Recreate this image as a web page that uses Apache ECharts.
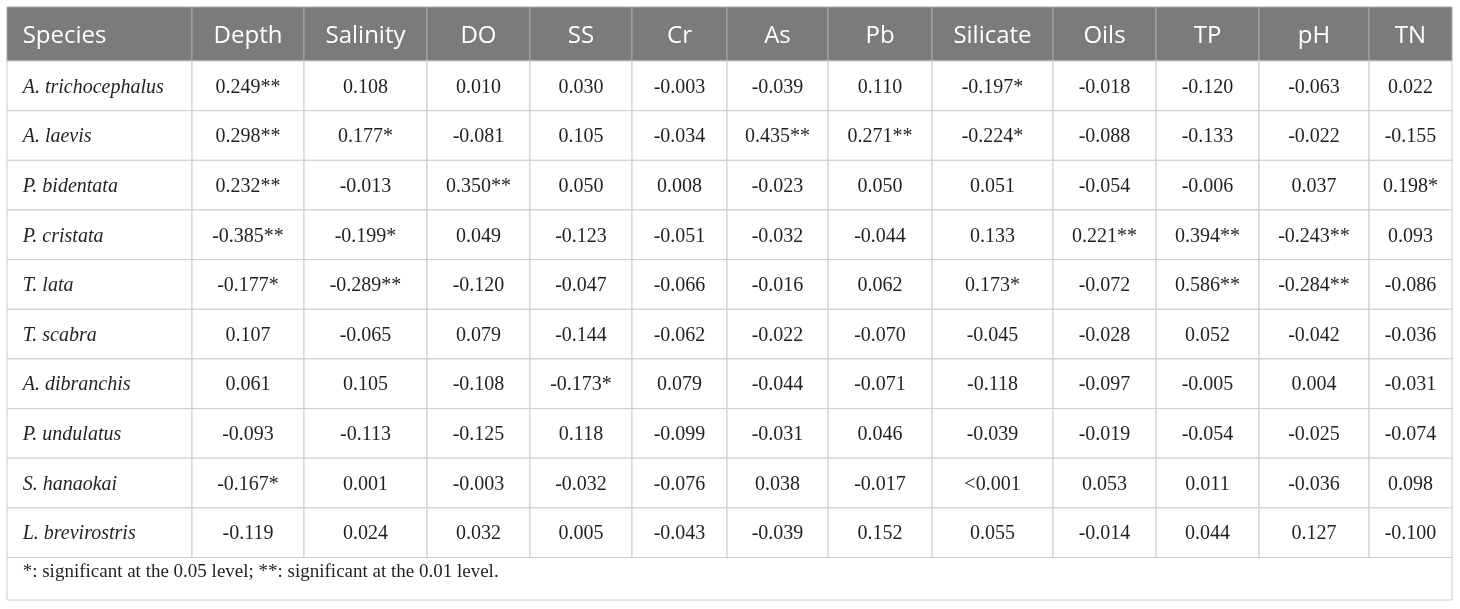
<!DOCTYPE html>
<html>
<head>
<meta charset="utf-8">
<script src="https://cdn.jsdelivr.net/npm/echarts@6/dist/echarts.min.js"></script>
<style>
html,body{margin:0;padding:0;background:#fff;}
#chart{width:1460px;height:609px;}
</style>
</head>
<body>
<div id="chart"></div>
<script>
// ---------- DATA ----------
const columns = ['Species','Depth','Salinity','DO','SS','Cr','As','Pb','Silicate','Oils','TP','pH','TN'];
const species = ['A. trichocephalus','A. laevis','P. bidentata','P. cristata','T. lata','T. scabra','A. dibranchis','P. undulatus','S. hanaokai','L. brevirostris'];
const depth    = ['0.249**','0.298**','0.232**','-0.385**','-0.177*','0.107','0.061','-0.093','-0.167*','-0.119'];
const salinity = ['0.108','0.177*','-0.013','-0.199*','-0.289**','-0.065','0.105','-0.113','0.001','0.024'];
const dO       = ['0.010','-0.081','0.350**','0.049','-0.120','0.079','-0.108','-0.125','-0.003','0.032'];
const ss       = ['0.030','0.105','0.050','-0.123','-0.047','-0.144','-0.173*','0.118','-0.032','0.005'];
const cr       = ['-0.003','-0.034','0.008','-0.051','-0.066','-0.062','0.079','-0.099','-0.076','-0.043'];
const as       = ['-0.039','0.435**','-0.023','-0.032','-0.016','-0.022','-0.044','-0.031','0.038','-0.039'];
const pb       = ['0.110','0.271**','0.050','-0.044','0.062','-0.070','-0.071','0.046','-0.017','0.152'];
const silicate = ['-0.197*','-0.224*','0.051','0.133','0.173*','-0.045','-0.118','-0.039','<0.001','0.055'];
const oils     = ['-0.018','-0.088','-0.054','0.221**','-0.072','-0.028','-0.097','-0.019','0.053','-0.014'];
const tp       = ['-0.120','-0.133','-0.006','0.394**','0.586**','0.052','-0.005','-0.054','0.011','0.044'];
const ph       = ['-0.063','-0.022','0.037','-0.243**','-0.284**','-0.042','0.004','-0.025','-0.036','0.127'];
const tn       = ['0.022','-0.155','0.198*','0.093','-0.086','-0.036','-0.031','-0.074','0.098','-0.100'];
const footnote = '*: significant at the 0.05 level; **: significant at the 0.01 level.';

// ---------- LAYOUT ----------
const colWidths = [185,112,123,103,102,95,101,104,121,103,103,110,83];
const headerH = 54, rowH = 49.65, footerH = 42.5;
const colStart = [0];
colWidths.forEach((w,i)=>colStart.push(colStart[i]+w));
const totalW = colStart[colStart.length-1];
const totalH = headerH + rowH*species.length + footerH;

const valueCols = [depth, salinity, dO, ss, cr, as, pb, silicate, oils, tp, ph, tn];

// build cell data: [col, row, text]   row -1 = header, row = n -> footer
const cellData = [];
columns.forEach((c,ci)=>cellData.push([ci,-1,c]));
species.forEach((s,ri)=>{
  cellData.push([0,ri,s]);
  valueCols.forEach((arr,ci)=>cellData.push([ci+1,ri,arr[ri]]));
});
cellData.push([-1,species.length,footnote]);

function rowEdges(r){
  if (r < 0) return [0, headerH];
  if (r >= species.length) { const t = headerH + rowH*species.length; return [t, t+footerH]; }
  return [headerH + r*rowH, headerH + (r+1)*rowH];
}

function renderItem(params, api){
  const c = api.value(0), r = api.value(1);
  const text = cellData[params.dataIndex][2];
  const [y0v, y1v] = rowEdges(r);
  let x0v, x1v;
  if (c < 0) { x0v = 0; x1v = totalW; } else { x0v = colStart[c]; x1v = colStart[c+1]; }
  const p0 = api.coord([x0v, y0v]);
  const p1 = api.coord([x1v, y1v]);
  const x = p0[0], y = p0[1], w = p1[0]-p0[0], h = p1[1]-p0[1];
  const isHeader = r < 0;
  const isFooter = r >= species.length;
  const rect = {
    type:'rect',
    shape:{x:x, y:y, width:w, height:h},
    style:{fill: isHeader ? '#7b7b7b' : '#ffffff', stroke: isHeader ? '#a8a8a8' : '#cccccc', lineWidth:1}
  };
  let txt;
  if (isFooter) {
    txt = {type:'text', style:{text:text, x:x+15.7, y:y+15, align:'left', verticalAlign:'middle',
      font:'19px "Liberation Serif", serif', fill:'#231f20'}};
  } else if (isHeader) {
    const left = c === 0;
    txt = {type:'text', style:{text:text, x: left ? x+15.7 : x+w/2, y:y+h/2+2, align: left?'left':'center',
      verticalAlign:'middle', font:'24px "Open Sans", sans-serif', fill:'#ffffff'}};
  } else {
    const left = c === 0;
    txt = {type:'text', style:{text:text, x: left ? x+15.7 : x+w/2, y:y+h/2+1.5, align: left?'left':'center',
      verticalAlign:'middle', font:(left?'italic ':'')+'20px "Liberation Serif", serif', fill:'#231f20'}};
  }
  return {type:'group', children:[rect, txt]};
}

const chart = echarts.init(document.getElementById('chart'), null, {renderer:'canvas'});
chart.setOption({
  animation:false,
  backgroundColor:'#ffffff',
  grid:{left:7, top:7, width:totalW, height:totalH},
  xAxis:{type:'value', min:0, max:totalW, show:false},
  yAxis:{type:'value', min:0, max:totalH, inverse:true, show:false},
  series:[{
    type:'custom',
    coordinateSystem:'cartesian2d',
    renderItem: renderItem,
    data: cellData.map(d=>[d[0], d[1]]),
    encode:{x:0, y:1},
    clip:false,
    silent:true
  }]
});
</script>
</body>
</html>
